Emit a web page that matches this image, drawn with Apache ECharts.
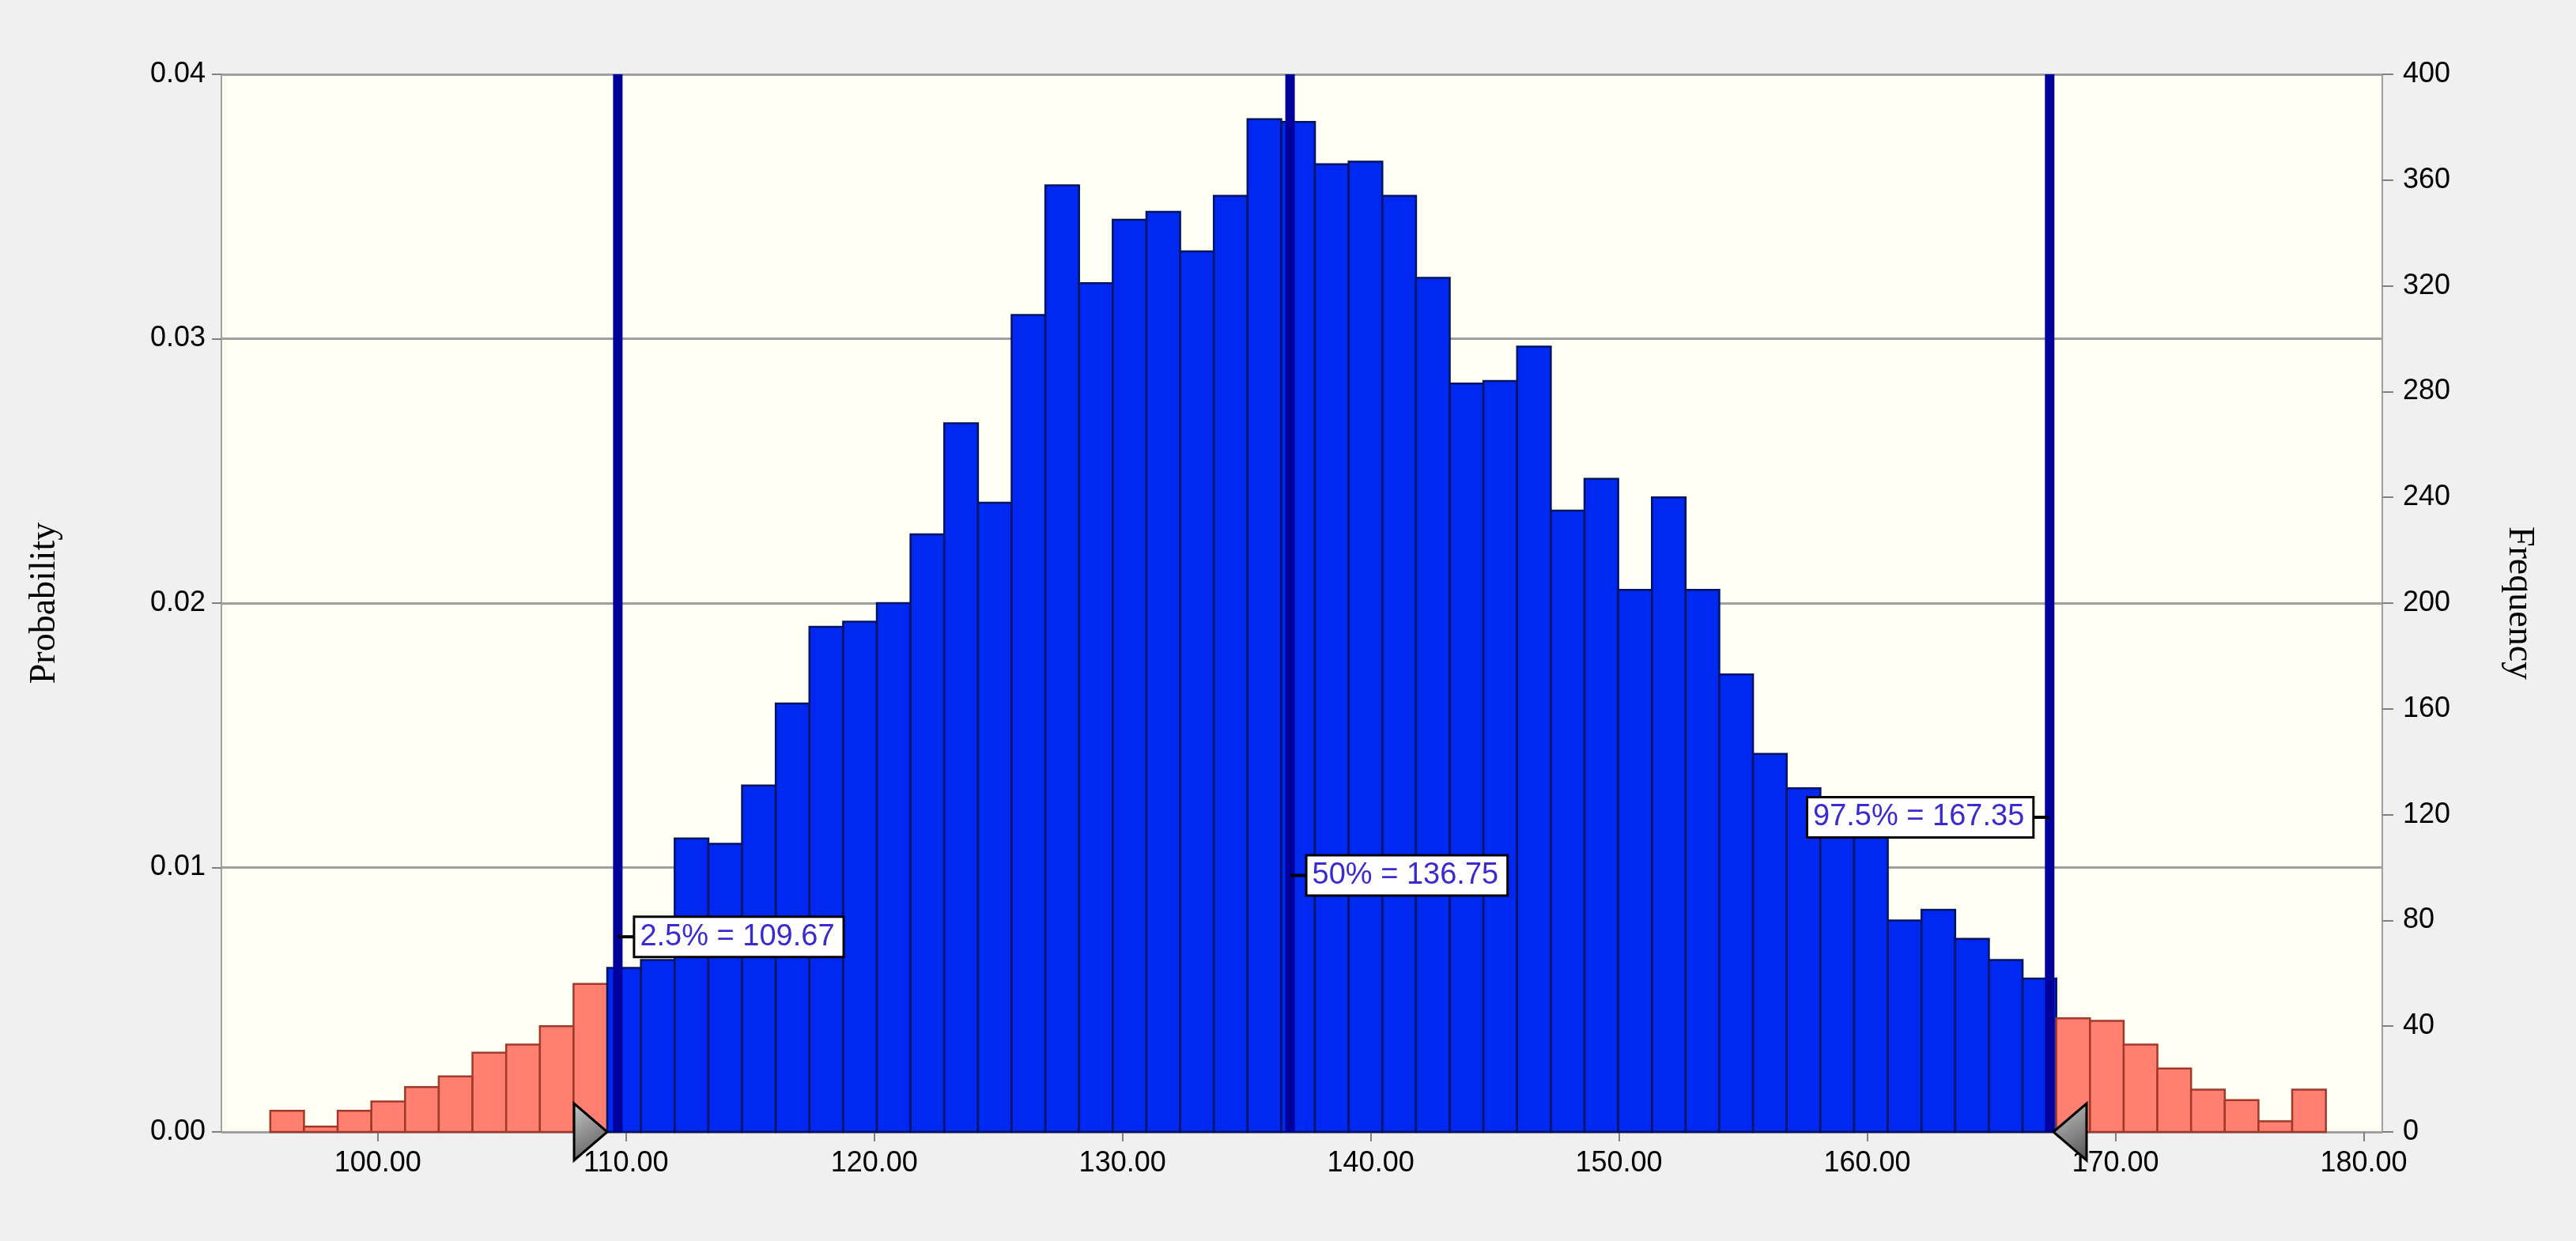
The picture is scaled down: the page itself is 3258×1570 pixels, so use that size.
<!DOCTYPE html>
<html><head><meta charset="utf-8">
<script src="https://cdn.jsdelivr.net/npm/echarts@6/dist/echarts.min.js"></script>
<style>html,body{margin:0;padding:0;background:#f0f0f0}#c{width:3258px;height:1570px}</style>
</head><body><div id="c"></div>
<script>
var binStart = 95.67;
var binWidth = 1.3575;
var frequencies = [8,2,8,11.5,17,21,30,33,40,56,
  62,65,111,109,131,162,191,193,200,226,268,238,
  309,358,321,345,348,333,354,383,382,366,367,354,323,283,284,297,235,247,205,240,205,173,143,
  130,120,113,80,84,73,65,58,
  43,42,33,24,16,12,4,16];
var lowerCut = 109.245, upperCut = 167.5;
var percentiles = [
  {label:'2.5% = 109.67', x:109.67, prob:0.00738, side:'right'},
  {label:'50% = 136.75', x:136.75, prob:0.0097, side:'right'},
  {label:'97.5% = 167.35', x:167.35, prob:0.0119, side:'left'}
];
var xTicks = [100,110,120,130,140,150,160,170,180];

var bars = frequencies.map(function(f,i){var a=binStart+i*binWidth;return [a,a+binWidth,f];});
var chart = echarts.init(document.getElementById('c'));
var lab = {color:'#000', fontSize:36, fontFamily:'Liberation Sans'};
chart.setOption({
  backgroundColor:'#f0f0f0',
  animation:false,
  grid:{left:280,right:245,top:94,bottom:138,show:true,backgroundColor:'#fffff3',borderColor:'#a0a0a0',borderWidth:2},
  xAxis:{type:'value',min:93.7,max:180.75,
    axisLine:{show:true,lineStyle:{color:'#a0a0a0',width:2}},
    axisTick:{show:true,customValues:xTicks,length:12,lineStyle:{color:'#808080',width:2}},
    axisLabel:Object.assign({customValues:xTicks,margin:22,formatter:function(v){return v.toFixed(2);}},lab),
    splitLine:{show:false}},
  yAxis:[
    {type:'value',min:0,max:0.04,interval:0.01,name:'Probability',nameLocation:'middle',nameGap:200,nameRotate:90,
     nameTextStyle:{fontFamily:'Liberation Serif',fontSize:46,color:'#000'},
     axisLine:{show:true,lineStyle:{color:'#a0a0a0',width:2}},
     axisTick:{show:true,length:12,lineStyle:{color:'#808080',width:2}},
     axisLabel:Object.assign({margin:20,formatter:function(v){return v.toFixed(2);}},lab),
     splitLine:{show:true,lineStyle:{color:'#a0a0a0',width:3}}},
    {type:'value',min:0,max:400,interval:40,name:'Frequency',nameLocation:'middle',nameGap:150,nameRotate:-90,
     nameTextStyle:{fontFamily:'Liberation Serif',fontSize:46,color:'#000'},
     axisLine:{show:true,lineStyle:{color:'#a0a0a0',width:2}},
     axisTick:{show:true,length:14,lineStyle:{color:'#808080',width:2}},
     axisLabel:Object.assign({margin:26},lab),
     splitLine:{show:false}}
  ],
  series:[
    {type:'custom',yAxisIndex:1,data:bars,renderItem:function(p,api){
      var a=api.coord([api.value(0),api.value(2)]),b=api.coord([api.value(1),0]);
      var mid=(api.value(0)+api.value(1))/2;
      var blue = mid>lowerCut && mid<upperCut;
      return {type:'rect',shape:{x:a[0],y:a[1],width:b[0]-a[0],height:b[1]-a[1]},
        style:{fill:blue?'#0028f0':'#ff8070',stroke:blue?'#001460':'#a03a2a',lineWidth:2.5}};
    }},
    {type:'custom',yAxisIndex:0,data:percentiles.map(function(p){return [p.x,p.prob];}),z:5,clip:false,renderItem:function(p,api){
      var d=percentiles[p.dataIndex];
      var top=api.coord([d.x,0.04]),bot=api.coord([d.x,0]),lp=api.coord([d.x,d.prob]);
      var right=d.side==='right';
      return {type:'group',children:[
        {type:'line',shape:{x1:top[0],y1:top[1],x2:bot[0],y2:bot[1]},style:{stroke:'#00009a',lineWidth:12}},
        {type:'line',shape:{x1:lp[0],y1:lp[1],x2:lp[0]+(right?30:-30),y2:lp[1]},style:{stroke:'#000',lineWidth:4}},
        {type:'text',x:lp[0]+(right?22:-22),y:lp[1],z2:10,style:{text:d.label,fill:'#3a2ad0',fontSize:38,fontFamily:'Liberation Sans',
          align:right?'left':'right',verticalAlign:'middle',backgroundColor:'#fff',borderColor:'#000',borderWidth:3,padding:[6,10,4,6]}}
      ]};
    }},
    {type:'custom',yAxisIndex:0,data:[[lowerCut,1],[upperCut,-1]],z:6,clip:false,renderItem:function(p,api){
      var c=api.coord([api.value(0),0]),dir=api.value(1);
      var pts=dir>0?[[c[0],c[1]],[c[0]-42,c[1]-36],[c[0]-42,c[1]+36]]:[[c[0],c[1]],[c[0]+42,c[1]-36],[c[0]+42,c[1]+36]];
      return {type:'polygon',shape:{points:pts},style:{fill:new echarts.graphic.LinearGradient(0,0,1,1,[{offset:0,color:'#c8c8c8'},{offset:1,color:'#505050'}]),stroke:'#000',lineWidth:3}};
    }}
  ]
});
</script></body></html>
